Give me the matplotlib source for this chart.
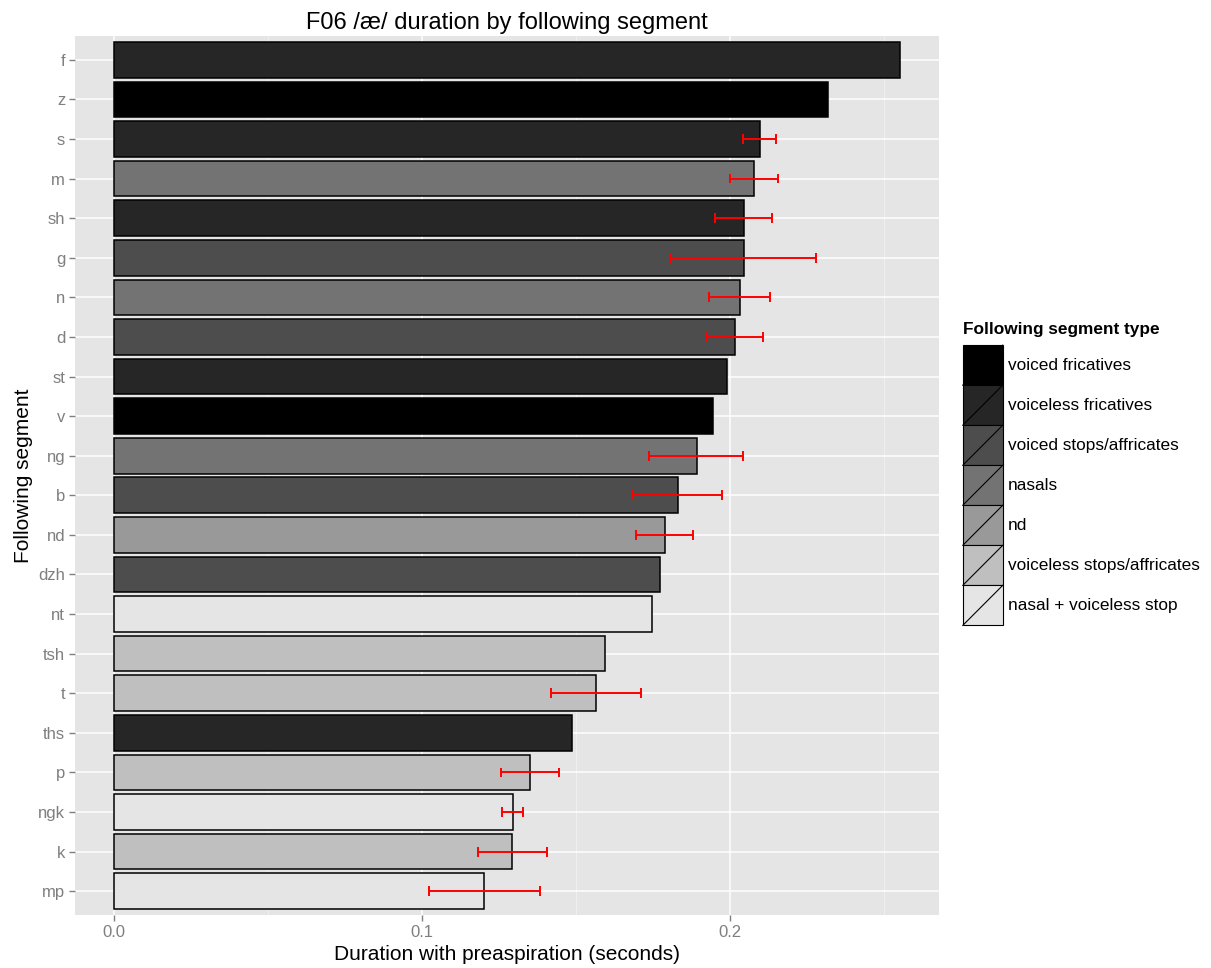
import matplotlib
matplotlib.use("Agg")
import matplotlib.pyplot as plt
from matplotlib.patches import Rectangle, Patch
from matplotlib.lines import Line2D
from matplotlib.legend_handler import HandlerBase
from matplotlib.ticker import MultipleLocator

plt.rcParams['font.family'] = ['Liberation Sans', 'DejaVu Sans']

# Segments, top to bottom
segments = ["f", "z", "s", "m", "sh", "g", "n", "d", "st", "v", "ng", "b",
            "nd", "dzh", "nt", "tsh", "t", "ths", "p", "ngk", "k", "mp"]
durations = [0.2549, 0.2318, 0.2097, 0.2078, 0.2045, 0.2045, 0.2032, 0.2016,
             0.1990, 0.1945, 0.1890, 0.1831, 0.1786, 0.1773, 0.1747, 0.1594,
             0.1565, 0.1487, 0.1351, 0.1295, 0.1292, 0.1201]
seg_types = ["voiceless fricatives", "voiced fricatives", "voiceless fricatives",
             "nasals", "voiceless fricatives", "voiced stops/affricates", "nasals",
             "voiced stops/affricates", "voiceless fricatives", "voiced fricatives",
             "nasals", "voiced stops/affricates", "nd", "voiced stops/affricates",
             "nasal + voiceless stop", "voiceless stops/affricates",
             "voiceless stops/affricates", "voiceless fricatives",
             "voiceless stops/affricates", "nasal + voiceless stop",
             "voiceless stops/affricates", "nasal + voiceless stop"]
# Error bar ranges (None where no bar is drawn)
err_low = [None, None, 0.2042, 0.2000, 0.1951, 0.1805, 0.1932, 0.1922, None, None,
           0.1737, 0.1682, 0.1695, None, None, None, 0.1419, None, 0.1256, 0.1260,
           0.1182, 0.1023]
err_high = [None, None, 0.2149, 0.2153, 0.2136, 0.2279, 0.2130, 0.2107, None, None,
            0.2042, 0.1974, 0.1880, None, None, None, 0.1711, None, 0.1442, 0.1328,
            0.1403, 0.1383]

type_order = ["voiced fricatives", "voiceless fricatives", "voiced stops/affricates",
              "nasals", "nd", "voiceless stops/affricates", "nasal + voiceless stop"]
type_colors = ["#000000", "#262626", "#4d4d4d", "#737373", "#999999", "#bfbfbf", "#e5e5e5"]
color_of = dict(zip(type_order, type_colors))

n = len(segments)
ypos = [n - i for i in range(n)]

fig = plt.figure(figsize=(12.11, 9.68), dpi=100)
W, H = 1211, 968
ax = fig.add_axes([75 / W, (H - 915) / H, (939 - 75) / W, (915 - 36) / H])
ax.set_facecolor("#e5e5e5")
for s in ax.spines.values():
    s.set_visible(False)

ax.set_xlim(-0.01275, 0.2677)
ax.set_ylim(0.4, n + 0.6)

ax.xaxis.set_major_locator(MultipleLocator(0.1))
ax.xaxis.set_minor_locator(MultipleLocator(0.05))
ax.grid(which="major", color="white", lw=1.1)
ax.grid(which="minor", axis="x", color="#f2f2f2", lw=0.6)
ax.set_axisbelow(True)

ax.barh(ypos, durations, height=0.9,
        color=[color_of[t] for t in seg_types], edgecolor="black", lw=1.1, zorder=2)

for y, lo, hi in zip(ypos, err_low, err_high):
    if lo is None:
        continue
    ax.plot([lo, hi], [y, y], color="red", lw=1.4, zorder=3, solid_capstyle="butt")
    for xv in (lo, hi):
        ax.plot([xv, xv], [y - 0.125, y + 0.125], color="red", lw=1.4, zorder=3,
                solid_capstyle="butt")

ax.set_yticks(ypos)
ax.set_yticklabels(segments)
ax.set_xticks([0.0, 0.1, 0.2])
ax.set_xticklabels(["0.0", "0.1", "0.2"])
ax.tick_params(axis="both", which="major", colors="#7f7f7f", labelcolor="#7f7f7f",
               labelsize=12, length=4.5, width=1, pad=2.5)
ax.tick_params(axis="x", which="minor", length=0)

ax.set_xlabel("Duration with preaspiration (seconds)", fontsize=15, labelpad=4)
ax.set_ylabel("Following segment", fontsize=15, labelpad=4)
ax.set_title("F06 /æ/ duration by following segment", fontsize=17, pad=5)


class DiagKeyHandler(HandlerBase):
    def create_artists(self, legend, orig_handle, xdescent, ydescent, width, height,
                       fontsize, trans):
        x0, y0 = -xdescent, -ydescent
        rect = Rectangle((x0, y0), width, height, facecolor=orig_handle.get_facecolor(),
                         edgecolor="black", lw=0.8, transform=trans)
        line = Line2D([x0, x0 + width], [y0, y0 + height], color="black", lw=0.8,
                      transform=trans)
        return [rect, line]


handles = [Patch(facecolor=c) for c in type_colors]
leg = fig.legend(handles, type_order, handler_map={Patch: DiagKeyHandler()},
                 loc="upper left", bbox_to_anchor=(949 / W, 1 - 308 / H),
                 frameon=False, fontsize=12.4, title="Following segment type",
                 title_fontproperties={"weight": "bold", "size": 12.4},
                 alignment="left", handlelength=2.32, handleheight=3.2,
                 labelspacing=0.0, handletextpad=0.3, borderpad=0.3)
leg._legend_box.sep = 6

fig.savefig("out.png", dpi=100)
